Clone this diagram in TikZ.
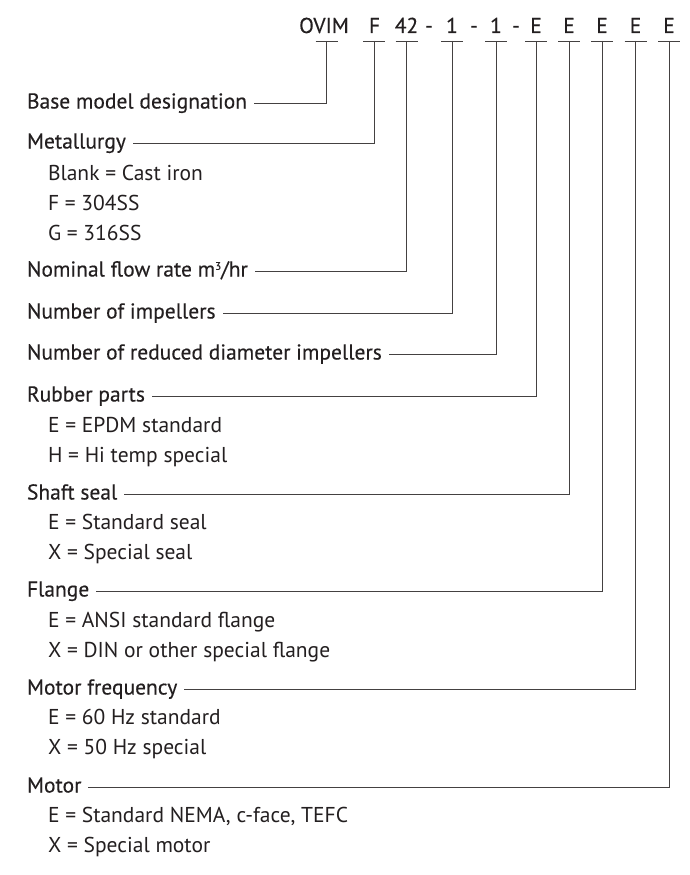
\documentclass[tikz,border=0pt]{standalone}
\usepackage{fontspec}
\setmainfont{PT Sans}
\newfontfamily\headfont{PT Sans}[FakeBold=0.25]
\definecolor{ink}{HTML}{231F20}
\newcommand{\cubesup}{\raisebox{0.62ex}{\fontsize{11}{11}\selectfont 3}}
\begin{document}
\begin{tikzpicture}[x=1pt,y=-1pt,
  head/.style={anchor=base west, inner sep=0pt, outer sep=0pt, text=ink, font=\headfont\fontsize{21.5}{24}\selectfont},
  subitem/.style={anchor=base west, inner sep=0pt, outer sep=0pt, text=ink, font=\fontsize{21.5}{24}\selectfont},
  code/.style={anchor=base, inner sep=0pt, outer sep=0pt, text=ink, font=\headfont\fontsize{21.5}{24}\selectfont},
  lead/.style={draw=ink!85, line width=0.9pt},
  bar/.style={draw=ink!85, line width=0.9pt}]
\useasboundingbox[fill=white] (0,0) rectangle (690,875);
% code letters
\node[code] (c1) at (324,33) {OVIM};
\node[code] (c2) at (374.5,33) {F};
\node[code] (c3) at (406.5,33) {42};
\node[code] (d1) at (429,33) {-};
\node[code] (c4) at (452,33) {1};
\node[code] (d2) at (474,33) {-};
\node[code] (c5) at (496,33) {1};
\node[code] (d3) at (516,33) {-};
\node[code] (c6) at (536,33) {E};
\node[code] (c7) at (569,33) {E};
\node[code] (c8) at (602,33) {E};
\node[code] (c9) at (635.5,33) {E};
\node[code] (c10) at (669,33) {E};
% bar tops
\coordinate (t1) at (326.5,41);
\coordinate (t2) at (374,41);
\coordinate (t3) at (406.5,41);
\coordinate (t4) at (452,41);
\coordinate (t5) at (496,41);
\coordinate (t6) at (536,41);
\coordinate (t7) at (569,41);
\coordinate (t8) at (602,41);
\coordinate (t9) at (635.5,41);
\coordinate (t10) at (669,41);
\foreach \i in {1,...,10}{\draw[bar] ([xshift=-11pt]t\i) -- ([xshift=11pt]t\i);}
% headings
\node[head] (h1) at (27,108.5) {Base model designation};
\node[head] (h2) at (27,148.5) {Metallurgy};
\node[subitem] (s21) at (48,180) {Blank = Cast iron};
\node[subitem] (s22) at (48,210.5) {F = 304SS};
\node[subitem] (s23) at (48,240.5) {G = 316SS};
\node[head] (h3) at (27,276.5) {Nominal flow rate m\cubesup/hr};
\node[head] (h4) at (27,318.5) {Number of impellers};
\node[head] (h5) at (27,359.5) {Number of reduced diameter impellers};
\node[head] (h6) at (27,401.5) {Rubber parts};
\node[subitem] (s61) at (48,432.5) {E = EPDM standard};
\node[subitem] (s62) at (48,462.5) {H = Hi temp special};
\node[head] (h7) at (27,499.5) {Shaft seal};
\node[subitem] (s71) at (48,529.5) {E = Standard seal};
\node[subitem] (s72) at (48,559.5) {X = Special seal};
\node[head] (h8) at (27,596.5) {Flange};
\node[subitem] (s81) at (48,627.5) {E = ANSI standard flange};
\node[subitem] (s82) at (48,657.5) {X = DIN or other special flange};
\node[head] (h9) at (27,694.5) {Motor frequency};
\node[subitem] (s91) at (48,724.5) {E = 60 Hz standard};
\node[subitem] (s92) at (48,754.5) {X = 50 Hz special};
\node[head] (h10) at (27,792.5) {Motor};
\node[subitem] (s101) at (48,822.5) {E = Standard NEMA, c-face, TEFC};
\node[subitem] (s102) at (48,852.5) {X = Special motor};
% leader lines
\foreach \i/\y in {1/103,2/143,3/271,4/313,5/354,6/396,7/494,8/591,9/689,10/787}{
  \coordinate (k\i) at (t\i |- 0,\y);
  \draw[lead] (t\i) -- (k\i) -- ([xshift=7pt]h\i.east |- k\i);
}
\end{tikzpicture}
\end{document}
